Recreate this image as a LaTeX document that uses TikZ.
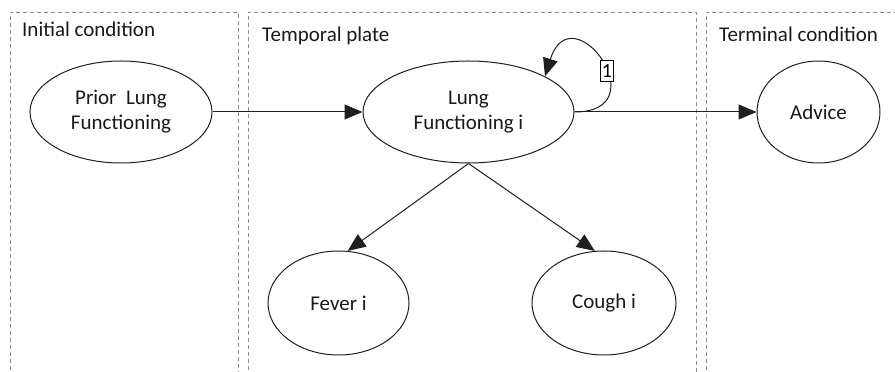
\documentclass[tikz,border=0pt]{standalone}
\usepackage{fontspec}
\setmainfont{Carlito}
\usetikzlibrary{shapes.geometric,arrows.meta}
\begin{document}
\begin{tikzpicture}[x=1pt,y=1pt,
  plate/.style={draw=black!45, dash pattern=on 4pt off 3pt, line width=0.8pt},
  var/.style={ellipse, draw=black!88, line width=1pt, inner sep=0pt, align=center,
    font=\fontsize{21}{25}\selectfont, text=black!90},
  title/.style={anchor=base west, inner sep=0pt, font=\fontsize{21}{25}\selectfont, text=black!90},
  edge/.style={draw=black!88, line width=1pt, -{Triangle[length=18pt,width=15pt]}},
  lagbox/.style={draw=black, fill=white, line width=0.8pt, inner sep=0pt,
    minimum width=13pt, minimum height=21pt, font=\fontsize{20}{20}\selectfont}
]
\useasboundingbox (0,0) rectangle (895,372);

% plates (open at the bottom / right)
\draw[plate] (10,-5) -- (10,360) -- (238,360) -- (238,-5);
\draw[plate] (248,-5) -- (248,360) -- (696,360) -- (696,-5);
\draw[plate] (706,-5) -- (706,360) -- (900,360);

\node[title] (tinit) at (22,335) {Initial condition};
\node[title] (ttemp) at (262,330) {Temporal plate};
\node[title] (tterm) at (719,330) {Terminal condition};

% variables
\node[var, minimum width=182pt, minimum height=102pt] (prior) at (121,260) {Prior\ \ Lung\\Functioning};
\node[var, minimum width=211pt, minimum height=102pt] (lung) at (468.5,260) {Lung\\Functioning i};
\node[var, minimum width=123pt, minimum height=102pt] (advice) at (818.5,260) {Advice};
\node[var, minimum width=141pt, minimum height=104pt] (fever) at (338.5,69) {Fever i};
\node[var, minimum width=144pt, minimum height=104pt] (cough) at (604,69) {Cough i};

% dependencies
\draw[edge] (prior.east) -- (lung.west);
\draw[edge] (lung.east) -- (advice.west);
\draw[edge] (lung.south) -- (fever.80);
\draw[edge] (lung.south) -- (cough.100);

% temporal self-dependency with lag 1
\draw[edge] (lung.east) .. controls +(85,0) and +(27,85.5) .. (lung.25)
  node[lagbox, pos=0.43] (lag) {1};
\end{tikzpicture}
\end{document}
